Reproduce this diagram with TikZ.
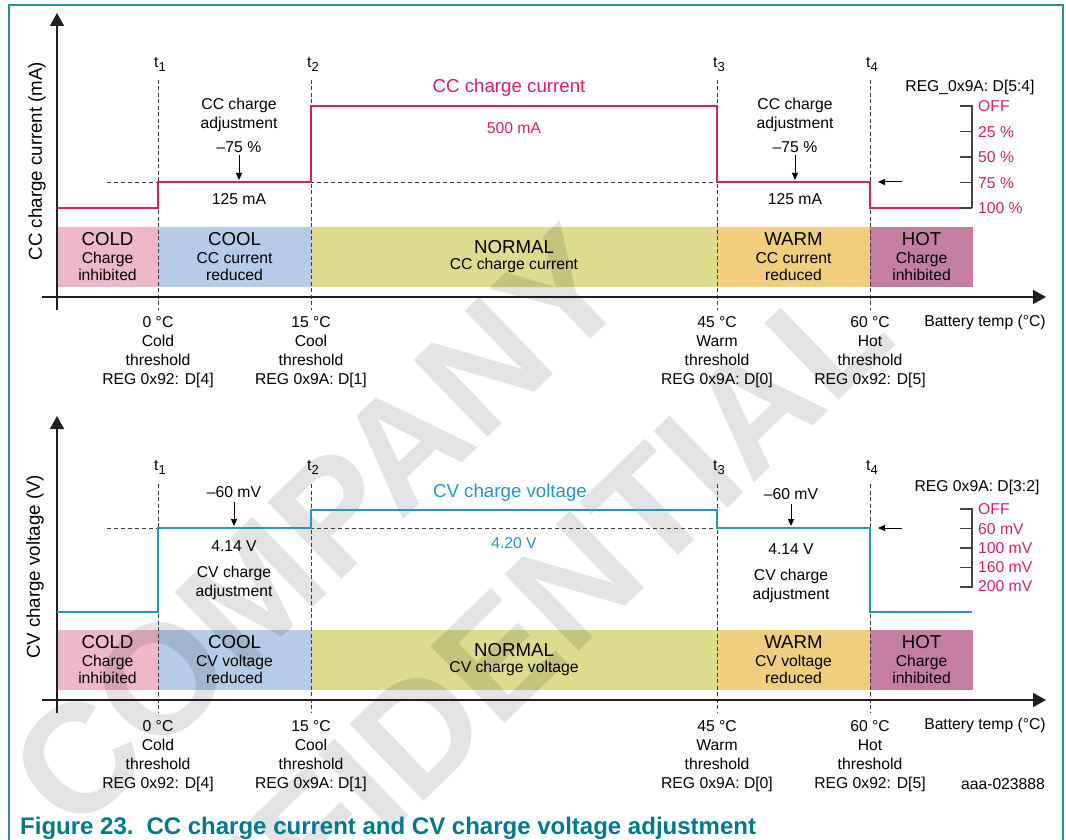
\documentclass[tikz,border=0pt]{standalone}
\usepackage{fontspec}
\setmainfont{Liberation Sans}
\usetikzlibrary{arrows.meta}
\definecolor{ccpink}{RGB}{214,30,110}
\definecolor{cvblue}{RGB}{35,150,200}
\definecolor{coldpink}{RGB}{238,184,202}
\definecolor{coolblue}{RGB}{180,204,232}
\definecolor{normalgreen}{RGB}{220,220,140}
\definecolor{warmorange}{RGB}{240,206,126}
\definecolor{hotmauve}{RGB}{196,126,162}
\definecolor{frameteal}{RGB}{40,140,175}
\definecolor{captionteal}{RGB}{0,121,140}
\definecolor{axisblack}{RGB}{35,31,32}
\definecolor{dashgray}{RGB}{60,60,60}
\newcommand{\tsub}[1]{t\raisebox{-4pt}{\fontsize{13}{13}\selectfont #1}}
\newcommand{\bigzone}[1]{{\fontsize{18.7}{19}\selectfont #1}}
\tikzset{
every node/.style={inner sep=0pt, font=\fontsize{15.7}{19}\selectfont},
axisline/.style={draw=axisblack, line width=1.6pt, -{Triangle[length=13pt,width=14pt]}},
tline/.style={draw=dashgray, line width=0.9pt, dash pattern=on 4pt off 2.5pt},
levelline/.style={draw=dashgray, line width=0.9pt, dash pattern=on 4pt off 3pt},
cccurve/.style={draw=ccpink, line width=2.4pt},
cvcurve/.style={draw=cvblue, line width=2.4pt},
band/.style={minimum height=60pt, align=center, font=\fontsize{15.7}{16.5}\selectfont},
thresh/.style={anchor=north, align=center},
annot/.style={anchor=north, align=center},
pointer/.style={draw=black, line width=1pt, -{Triangle[length=7pt,width=6pt]}},
scalebar/.style={draw=axisblack!85, line width=1.4pt},
scalelabel/.style={anchor=west, text=ccpink},
axislabel/.style={rotate=90, font=\fontsize{18.7}{20}\selectfont},
watermark/.style={text=black, text opacity=0.11, rotate=44, font=\fontsize{155}{155}\selectfont\bfseries}
}
\begin{document}
\begin{tikzpicture}[x=1pt,y=-1pt]
\useasboundingbox (0,0) rectangle (1066,840);
\draw[frameteal, line width=1.4pt] (9,840) -- (9,5) -- (1063,5) -- (1063,840);

\node[band, fill=coldpink, minimum width=101pt] (coldcc) at (107.5,256.5) {\bigzone{COLD}\\[2pt]Charge\\inhibited};
\node[band, fill=coolblue, minimum width=153pt] (coolcc) at (234.5,256.5) {\bigzone{COOL}\\[2pt]CC current\\reduced};
\node[band, fill=normalgreen, minimum width=406pt] (normalcc) at (514,256.5) {\bigzone{NORMAL}\\CC charge current};
\node[band, fill=warmorange, minimum width=153pt] (warmcc) at (793.5,256.5) {\bigzone{WARM}\\[2pt]CC current\\reduced};
\node[band, fill=hotmauve, minimum width=103pt] (hotcc) at (921.5,256.5) {\bigzone{HOT}\\[2pt]Charge\\inhibited};

\node[band, fill=coldpink, minimum width=101pt] (coldcv) at (107.5,659.5) {\bigzone{COLD}\\[2pt]Charge\\inhibited};
\node[band, fill=coolblue, minimum width=153pt] (coolcv) at (234.5,659.5) {\bigzone{COOL}\\[2pt]CV voltage\\reduced};
\node[band, fill=normalgreen, minimum width=406pt] (normalcv) at (514,659.5) {\bigzone{NORMAL}\\CV charge voltage};
\node[band, fill=warmorange, minimum width=153pt] (warmcv) at (793.5,659.5) {\bigzone{WARM}\\[2pt]CV voltage\\reduced};
\node[band, fill=hotmauve, minimum width=103pt] (hotcv) at (921.5,659.5) {\bigzone{HOT}\\[2pt]Charge\\inhibited};

\node[watermark] (wmcompany) at (318,528) {COMPANY};
\node[watermark] (wmconfidential) at (448,704) {CONFIDENTIAL};

\draw[tline] (158,80) -- (158,310);
\draw[tline] (311,80) -- (311,310);
\draw[tline] (717,80) -- (717,310);
\draw[tline] (870,80) -- (870,310);
\draw[levelline] (107,182) -- (870,182);
\draw[tline] (158,484) -- (158,713);
\draw[tline] (311,484) -- (311,713);
\draw[tline] (717,484) -- (717,713);
\draw[tline] (870,484) -- (870,713);
\draw[levelline] (107,528) -- (870,528);

\coordinate (ccybot) at (57,310);
\coordinate (ccytop) at (57,13);
\coordinate (ccxleft) at (42,297);
\coordinate (ccxright) at (1046,297);
\draw[axisline] (ccybot) -- (ccytop);
\draw[axisline] (ccxleft) -- (ccxright);
\coordinate (cvybot) at (57,713);
\coordinate (cvytop) at (57,416);
\coordinate (cvxleft) at (42,700);
\coordinate (cvxright) at (1046,700);
\draw[axisline] (cvybot) -- (cvytop);
\draw[axisline] (cvxleft) -- (cvxright);

\draw[cccurve] (57,208) -- (158,208) -- (158,182) -- (311,182) -- (311,106) -- (717,106) -- (717,182) -- (870,182) -- (870,208) -- (972,208);
\draw[cvcurve] (57,612) -- (158,612) -- (158,528) -- (311,528) -- (311,510) -- (717,510) -- (717,528) -- (870,528) -- (870,612) -- (972,612);

\draw[scalebar] (960,106) -- (972,106) -- (972,208);
\draw[scalebar] (960,131.5) -- (972,131.5);
\draw[scalebar] (960,157) -- (972,157);
\draw[scalebar] (960,182.5) -- (972,182.5);
\draw[scalebar] (960,208) -- (972,208);
\draw[scalebar] (960,509) -- (972,509) -- (972,587) -- (960,587);
\draw[scalebar] (960,528.5) -- (972,528.5);
\draw[scalebar] (960,548) -- (972,548);
\draw[scalebar] (960,567.5) -- (972,567.5);

\node (yccname) [axislabel] at (37,161) {CC charge current (mA)};
\node (ycvname) [axislabel] at (35,567) {CV charge voltage (V)};

\node (tcc1) at (160,64) {\tsub{1}};
\node (tcc2) at (313,64) {\tsub{2}};
\node (tcc3) at (719,64) {\tsub{3}};
\node (tcc4) at (872,64) {\tsub{4}};
\node (tcv1) at (160,467) {\tsub{1}};
\node (tcv2) at (313,467) {\tsub{2}};
\node (tcv3) at (719,467) {\tsub{3}};
\node (tcv4) at (872,467) {\tsub{4}};

\node (cctitle) at (509,88) [text=ccpink, font=\fontsize{18.7}{20}\selectfont] {CC charge current};
\node (ccfull) at (514,128) [text=ccpink] {500 mA};
\node (cvtitle) at (510,493) [text=cvblue, font=\fontsize{18.7}{20}\selectfont] {CV charge voltage};
\node (cvfull) at (514,543) [text=cvblue] {4.20 V};

\node (adjcccool) [annot] at (239,98) {CC charge\\adjustment\\[5pt]–75 \%};
\coordinate (adjcccooltip) at (239,180);
\draw[pointer] (adjcccool.south) ++(0,2) coordinate (adjcccoolfoot) (adjcccoolfoot) -- (adjcccooltip);
\node (cccoolval) at (239,199) {125 mA};
\node (adjccwarm) [annot] at (795,98) {CC charge\\adjustment\\[5pt]–75 \%};
\coordinate (adjccwarmtip) at (795,180);
\draw[pointer] (adjccwarm.south) ++(0,2) coordinate (adjccwarmfoot) (adjccwarmfoot) -- (adjccwarmtip);
\node (ccwarmval) at (795,199) {125 mA};

\node (adjcvcool) at (234,492) {–60 mV};
\coordinate (adjcvcooltip) at (234,526);
\draw[pointer] (adjcvcool.south) ++(0,4) coordinate (adjcvcoolfoot) (adjcvcoolfoot) -- (adjcvcooltip);
\node (cvcoolval) [annot] at (234,540) {4.14 V\\[7pt]CV charge\\adjustment};
\node (adjcvwarm) at (791,494) {–60 mV};
\coordinate (adjcvwarmtip) at (791,526);
\draw[pointer] (adjcvwarm.south) ++(0,4) coordinate (adjcvwarmfoot) (adjcvwarmfoot) -- (adjcvwarmtip);
\node (cvwarmval) [annot] at (791,543) {4.14 V\\[7pt]CV charge\\adjustment};

\node (regcc) at (970,87) {REG\_0x9A: D[5:4]};
\coordinate (regccfrom) at (902,182);
\coordinate (regccto) at (878,182);
\draw[pointer] (regccfrom) -- (regccto);
\node (scoff) [scalelabel] at (978,106) {OFF};
\node (sc25) [scalelabel] at (978,132) {25 \%};
\node (sc50) [scalelabel] at (978,157) {50 \%};
\node (sc75) [scalelabel] at (978,183) {75 \%};
\node (sc100) [scalelabel] at (978,208) {100 \%};

\node (regcv) at (977,487) {REG 0x9A: D[3:2]};
\coordinate (regcvfrom) at (902,528);
\coordinate (regcvto) at (878,528);
\draw[pointer] (regcvfrom) -- (regcvto);
\node (svoff) [scalelabel] at (978,509) {OFF};
\node (sv60) [scalelabel] at (978,529) {60 mV};
\node (sv100) [scalelabel] at (978,548) {100 mV};
\node (sv160) [scalelabel] at (978,567) {160 mV};
\node (sv200) [scalelabel] at (978,586) {200 mV};

\node (thcc1) [thresh] at (158,316) {0 °C\\Cold\\threshold\\REG 0x92: D[4]};
\node (thcc2) [thresh] at (311,316) {15 °C\\Cool\\threshold\\REG 0x9A: D[1]};
\node (thcc3) [thresh] at (717,316) {45 °C\\Warm\\threshold\\REG 0x9A: D[0]};
\node (thcc4) [thresh] at (870,316) {60 °C\\Hot\\threshold\\REG 0x92: D[5]};
\node (tempcc) at (985,322) {Battery temp (°C)};
\node (thcv1) [thresh] at (158,720) {0 °C\\Cold\\threshold\\REG 0x92: D[4]};
\node (thcv2) [thresh] at (311,720) {15 °C\\Cool\\threshold\\REG 0x9A: D[1]};
\node (thcv3) [thresh] at (717,720) {45 °C\\Warm\\threshold\\REG 0x9A: D[0]};
\node (thcv4) [thresh] at (870,720) {60 °C\\Hot\\threshold\\REG 0x92: D[5]};
\node (tempcv) at (985,725) {Battery temp (°C)};
\node (figid) at (1003,784) {aaa-023888};

\node (caption) [anchor=base west, text=captionteal, font=\fontsize{24}{26}\selectfont\bfseries] at (20,834.5) {Figure 23.\hspace{13pt}CC charge current and CV charge voltage adjustment};
\end{tikzpicture}
\end{document}
